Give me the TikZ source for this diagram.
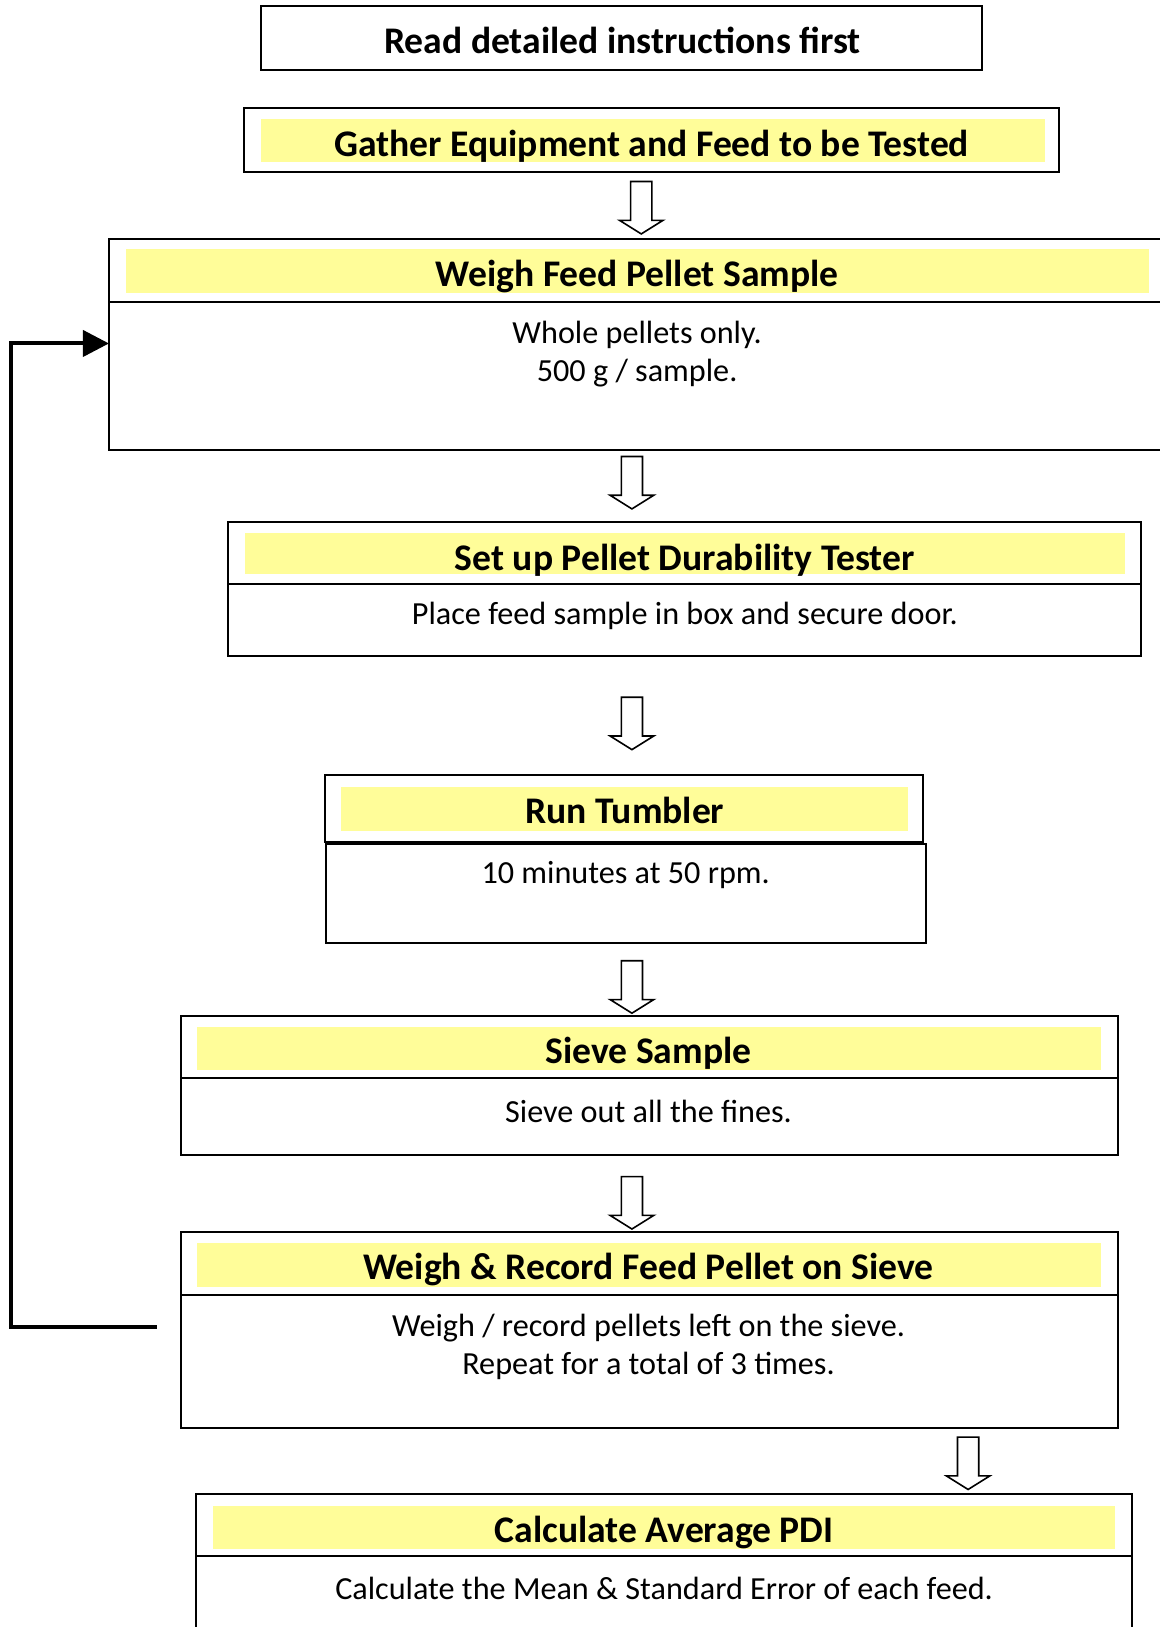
\documentclass[tikz,border=0pt]{standalone}
\usepackage{fontspec}
\setmainfont{Carlito}
\usetikzlibrary{
    arrows.meta,
    shapes.arrows
}
\definecolor{bandyellow}{RGB}{255,253,153}
\tikzset{
    box/.style={draw, line width=1pt},
    band/.style={fill=bandyellow},
    title/.style={font=\fontsize{18.8}{22}\selectfont\bfseries, inner sep=0pt, text height=0.72em, text depth=0.2em},
    note/.style={font=\fontsize{16.1}{19.2}\selectfont, align=center, inner sep=0pt},
    hollow/.style={draw, line width=0.8pt, single arrow, rotate=-90, minimum height=26.2pt,
        inner xsep=0pt, inner ysep=4.9pt, single arrow head extend=5.6pt, single arrow tip angle=116},
    loop/.style={line width=2pt, -{Triangle[length=13pt,width=13pt]}}
}

\begin{document}
\begin{tikzpicture}[x=0.5188pt, y=-0.5188pt]
        \useasboundingbox (0,0) rectangle (1117,1568);

        % start
        \draw[box] (252,6) rectangle (946,67);
        \node[title] (read) at (600,47) {Read detailed instructions first};

        \draw[box] (235,104) rectangle (1021,166);
        \fill[band] (252,115) rectangle (1007,156);
        \node[title] (gather) at (628,146) {Gather Equipment and Feed to be Tested};
        \node[hollow] (a1) at (618,197) {};

        % weigh sample
        \draw[box] (105,230) rectangle (1123,434);
        \draw[box] (105,291) -- (1123,291);
        \fill[band] (121,240) rectangle (1107,282);
        \node[title] (weigh) at (614,271) {Weigh Feed Pellet Sample};
        \node[note] (weighnote) at (614,341) {Whole pellets only.\\500 g / sample.};
        \node[hollow] (a2) at (609,462) {};

        % tester
        \draw[box] (220,503) rectangle (1100,632);
        \draw[box] (220,563) -- (1100,563);
        \fill[band] (236,514) rectangle (1084,553);
        \node[title] (setup) at (660,545) {Set up Pellet Durability Tester};
        \node[note] (setupnote) at (660,594) {Place feed sample in box and secure door.};
        \node[hollow] (a3) at (609,694) {};

        % tumbler
        \draw[box] (313,747) rectangle (890,811);
        \fill[band] (329,758) rectangle (875,801);
        \draw[box] (314,813) rectangle (892,909);
        \node[title] (tumble) at (602,789) {Run Tumbler};
        \node[note] (tumblenote) at (603,843) {10 minutes at 50 rpm.};
        \node[hollow] (a4) at (609,948) {};

        % sieve
        \draw[box] (174,979) rectangle (1077,1113);
        \draw[box] (174,1039) -- (1077,1039);
        \fill[band] (190,990) rectangle (1061,1031);
        \node[title] (sieve) at (625,1020) {Sieve Sample};
        \node[note] (sievenote) at (625,1071) {Sieve out all the fines.};
        \node[hollow] (a5) at (609,1156) {};

        % record
        \draw[box] (174,1187) rectangle (1077,1376);
        \draw[box] (174,1248) -- (1077,1248);
        \fill[band] (190,1198) rectangle (1061,1240);
        \node[title] (record) at (625,1228) {Weigh \& Record Feed Pellet on Sieve};
        \node[note] (recordnote) at (625,1298) {Weigh / record pellets left on the sieve.\\Repeat for a total of 3 times.};
        \node[hollow] (a6) at (933,1407) {};

        % average
        \draw[box] (189,1440) rectangle (1091,1600);
        \draw[box] (189,1500) -- (1091,1500);
        \fill[band] (205,1451) rectangle (1075,1493);
        \node[title] (average) at (640,1482) {Calculate Average PDI};
        \node[note] (averagenote) at (640,1531) {Calculate the Mean \& Standard Error of each feed.};

        % repeat loop
        \coordinate (loopout) at (151,1279);
        \coordinate (loopin) at (105,331);
        \draw[loop] (loopout) -- ++(-140,0) |- (loopin);
    \end{tikzpicture}
\end{document}
